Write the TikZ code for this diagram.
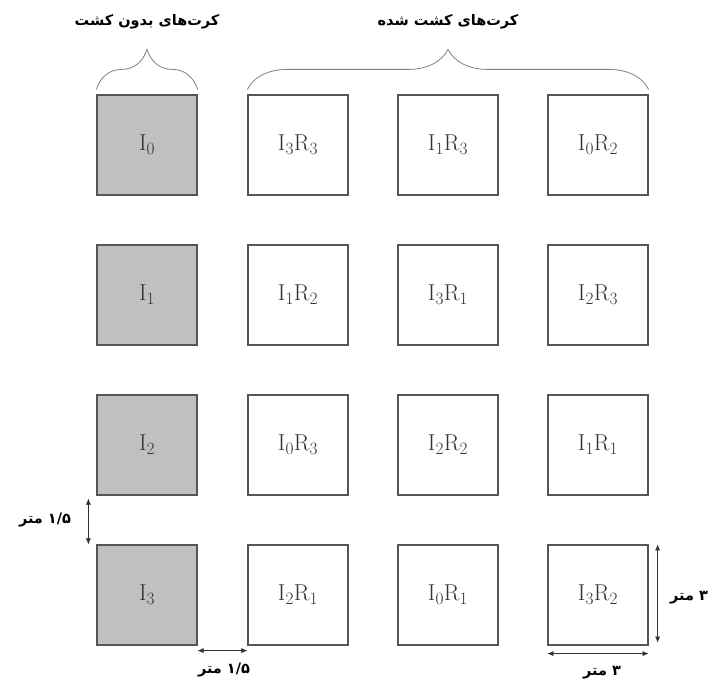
\documentclass[tikz,border=0pt]{standalone}
\usepackage{fontspec}
\usetikzlibrary{decorations.pathreplacing,arrows.meta}
\newfontfamily\farsifont[Script=Arabic]{DejaVu Sans}
\TeXXeTstate=1
\definecolor{plotgray}{HTML}{C0C0C0}
\definecolor{edgegray}{HTML}{555555}
\tikzset{
  plot/.style={draw=edgegray, line width=1.2pt, minimum size=100pt, inner sep=0pt, font=\fontsize{23}{26}\selectfont, text=black!80},
  control/.style={plot, fill=plotgray},
  crop/.style={plot, fill=white},
  dimarrow/.style={{Latex[length=6pt,width=5pt]}-{Latex[length=6pt,width=5pt]}, line width=0.6pt, black!80},
  farsi/.style={font=\farsifont\bfseries\fontsize{14.5}{16}\selectfont},
  plotbrace/.style={decorate, decoration={brace, amplitude=40pt}, draw=gray, line width=0.8pt}
}
\begin{document}
\begin{tikzpicture}[x=1pt,y=-1pt]
\useasboundingbox (0,0) rectangle (713,684);

% control plots
\node[control] (i0) at (147,145) {$\mathrm{I}_0$};
\node[control] (i1) at (147,295) {$\mathrm{I}_1$};
\node[control] (i2) at (147,445) {$\mathrm{I}_2$};
\node[control] (i3) at (147,595) {$\mathrm{I}_3$};

% cultivated plots
\node[crop] (i3r3) at (298,145) {$\mathrm{I}_3\mathrm{R}_3$};
\node[crop] (i1r3) at (448,145) {$\mathrm{I}_1\mathrm{R}_3$};
\node[crop] (i0r2) at (598,145) {$\mathrm{I}_0\mathrm{R}_2$};
\node[crop] (i1r2) at (298,295) {$\mathrm{I}_1\mathrm{R}_2$};
\node[crop] (i3r1) at (448,295) {$\mathrm{I}_3\mathrm{R}_1$};
\node[crop] (i2r3) at (598,295) {$\mathrm{I}_2\mathrm{R}_3$};
\node[crop] (i0r3) at (298,445) {$\mathrm{I}_0\mathrm{R}_3$};
\node[crop] (i2r2) at (448,445) {$\mathrm{I}_2\mathrm{R}_2$};
\node[crop] (i1r1) at (598,445) {$\mathrm{I}_1\mathrm{R}_1$};
\node[crop] (i2r1) at (298,595) {$\mathrm{I}_2\mathrm{R}_1$};
\node[crop] (i0r1) at (448,595) {$\mathrm{I}_0\mathrm{R}_1$};
\node[crop] (i3r2) at (598,595) {$\mathrm{I}_3\mathrm{R}_2$};

% braces and titles
\draw[plotbrace] ([yshift=5pt]i0.north west) -- ([yshift=5pt]i0.north east);
\draw[plotbrace] ([yshift=5pt]i3r3.north west) -- ([yshift=5pt]i0r2.north east);
\node[farsi] (nocrop) at (147,22) {\beginR کرت‌های بدون کشت\endR};
\node[farsi] (withcrop) at (448,22) {\beginR کرت‌های کشت شده\endR};

% dimensions
\draw[dimarrow] ([xshift=-8pt,yshift=-3pt]i2.south west) -- ([xshift=-8pt]i3.north west);
\node[farsi] (gapv) at (45,520) {\beginR\beginL ۱/۵\endL{} متر\endR};
\draw[dimarrow] ([yshift=-5pt]i3.south east) -- ([yshift=-5pt]i2r1.south west);
\node[farsi] (gaph) at (224,670) {\beginR\beginL ۱/۵\endL{} متر\endR};
\draw[dimarrow] ([xshift=9pt]i3r2.north east) -- ([xshift=9pt,yshift=3pt]i3r2.south east);
\node[farsi] (sidev) at (689,598) {\beginR ۳ متر\endR};
\draw[dimarrow] ([yshift=-8pt]i3r2.south west) -- ([yshift=-8pt]i3r2.south east);
\node[farsi] (sideh) at (602,673) {\beginR ۳ متر\endR};
\end{tikzpicture}
\end{document}
